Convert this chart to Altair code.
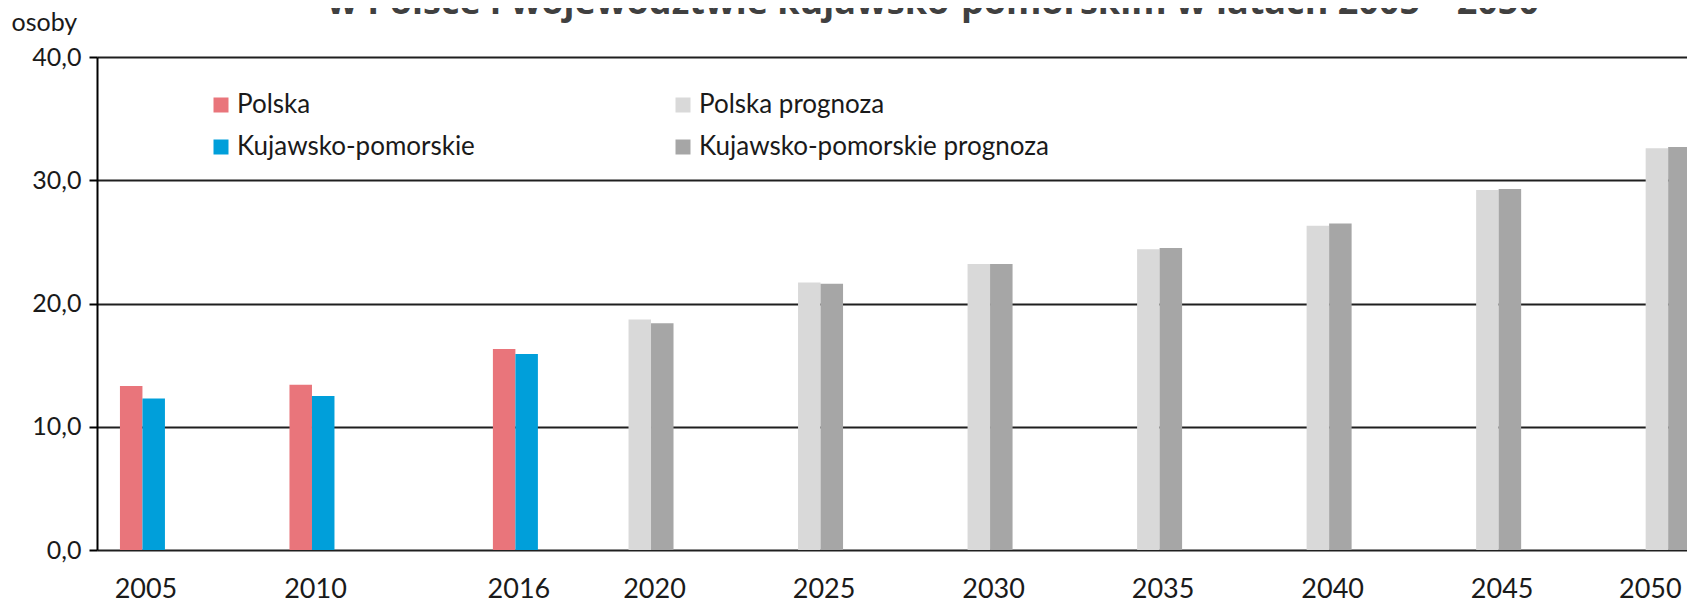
import altair as alt
import pandas as pd

# ---- data ----
hist_years = [2005, 2010, 2016]
polska = [13.3, 13.4, 16.3]
kujawsko = [12.3, 12.5, 15.9]

prog_years = [2020, 2025, 2030, 2035, 2040, 2045, 2050]
polska_prog = [18.7, 21.7, 23.2, 24.4, 26.3, 29.2, 32.6]
kujawsko_prog = [18.4, 21.6, 23.2, 24.5, 26.5, 29.3, 32.7]

tick_years = [2005, 2010, 2016, 2020, 2025, 2030, 2035, 2040, 2045, 2050]
y_ticks = [0, 10, 20, 30, 40]

series_order = ["Polska", "Polska prognoza", "Kujawsko-pomorskie", "Kujawsko-pomorskie prognoza"]
series_colors = ["#E9757B", "#D9D9D9", "#009FDA", "#A6A6A6"]

title_text = "w Polsce i województwie kujawsko-pomorskim w latach 2005 – 2050"

# ---- tables ----
left_df = pd.DataFrame(
    {"rok": hist_years + prog_years,
     "wartosc": polska + polska_prog,
     "seria": ["Polska"] * len(hist_years) + ["Polska prognoza"] * len(prog_years)}
)
right_df = pd.DataFrame(
    {"rok": hist_years + prog_years,
     "wartosc": kujawsko + kujawsko_prog,
     "seria": ["Kujawsko-pomorskie"] * len(hist_years) + ["Kujawsko-pomorskie prognoza"] * len(prog_years)}
)

FONT = "Lato"
BAR_W = 22.5

x_enc = alt.X(
    "rok:Q",
    scale=alt.Scale(domain=[2003.807, 2050.408], nice=False, zero=False),
    axis=alt.Axis(
        values=tick_years, format="d", title=None, grid=False, domain=False,
        ticks=False, labelFont=FONT, labelFontSize=27, labelColor="#1a1a1a",
        labelBaseline="alphabetic", labelPadding=47,
        labelFlush=20, labelFlushOffset=10,
        labelOverlap=False, labelOffset=3,
    ),
)
y_enc = alt.Y(
    "wartosc:Q",
    scale=alt.Scale(domain=[0, 40], nice=False),
    axis=alt.Axis(
        values=y_ticks,
        labelExpr="replace(format(datum.value, '.1f'), '.', ',')",
        title="osoby", titleAngle=0, titleX=-86, titleY=-27, titleAlign="left",
        titleBaseline="alphabetic", titleFont=FONT, titleFontSize=25,
        titleFontWeight="normal", titleColor="#1a1a1a",
        labelFont=FONT, labelFontSize=25, labelColor="#1a1a1a", labelPadding=8,
        tickSize=8, tickColor="#000000", tickWidth=2,
        domainColor="#000000", domainWidth=2,
        grid=True, gridColor="#1f1f1f", gridWidth=2,
    ),
)
color_enc = alt.Color(
    "seria:N",
    scale=alt.Scale(domain=series_order, range=series_colors),
    legend=alt.Legend(
        title=None, orient="none", legendX=111, legendY=35, columns=2,
        direction="horizontal",
        symbolType="square", symbolSize=225, symbolStrokeWidth=0,
        labelFont=FONT, labelFontSize=26, labelColor="#1a1a1a",
        labelOffset=3, rowPadding=16, columnPadding=195, padding=0,
        labelLimit=600,
    ),
)

left_bars = alt.Chart(left_df).mark_bar(width=BAR_W, xOffset=-BAR_W / 2).encode(
    x=x_enc, y=y_enc, color=color_enc
)
right_bars = alt.Chart(right_df).mark_bar(width=BAR_W, xOffset=BAR_W / 2).encode(
    x=x_enc, y=y_enc, color=color_enc
)

title_layer = alt.Chart(pd.DataFrame({"t": [title_text]})).mark_text(
    font="Open Sans", fontSize=36, fontWeight="bold", color="#404040",
    align="left", baseline="alphabetic",
).encode(text="t:N", x=alt.value(230), y=alt.value(-43))

chart = (
    alt.layer(left_bars, right_bars, title_layer)
    .properties(
        width=1590, height=493,
        autosize=alt.AutoSizeParams(type="none"),
        padding={"left": 89, "top": 49, "right": 0, "bottom": 58},
        background="white",
    )
    .configure_view(stroke=None)
)

chart.save("out.html", embed_options={"renderer": "svg", "actions": False})
